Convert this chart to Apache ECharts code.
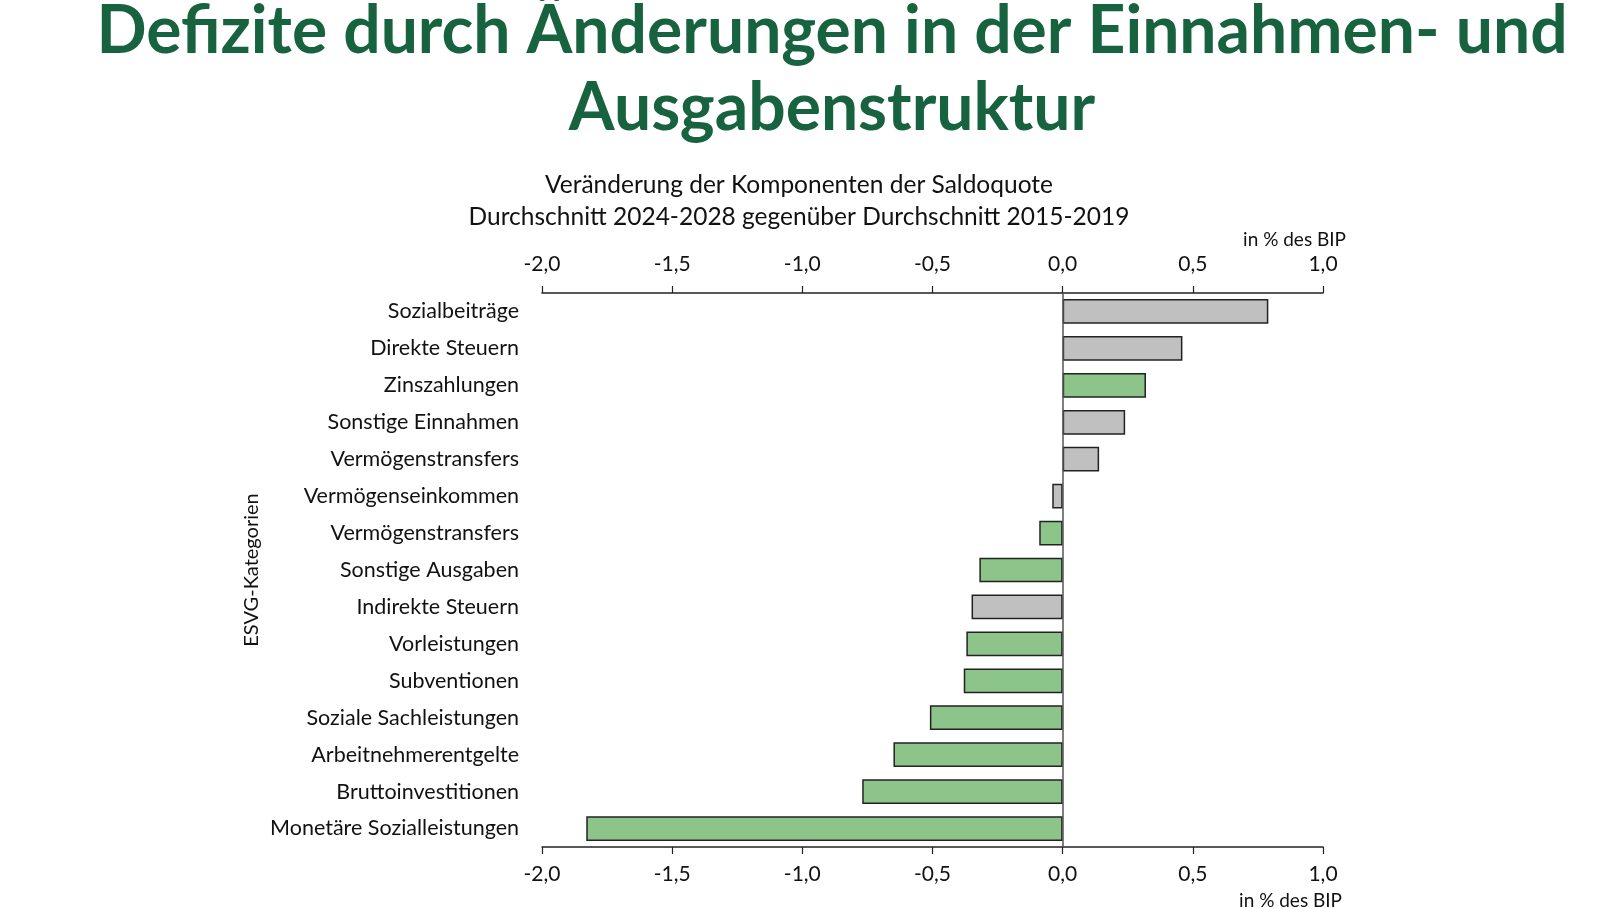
<!DOCTYPE html>
<html>
<head>
<meta charset="utf-8">
<script src="https://cdn.jsdelivr.net/npm/echarts@6/dist/echarts.min.js"></script>
<style>
html,body{margin:0;padding:0;background:#fff;}
#chart{width:1616px;height:909px;}
</style>
</head>
<body>
<div id="chart"></div>
<script>
const categories = ["Sozialbeiträge","Direkte Steuern","Zinszahlungen","Sonstige Einnahmen","Vermögenstransfers","Vermögenseinkommen","Vermögenstransfers","Sonstige Ausgaben","Indirekte Steuern","Vorleistungen","Subventionen","Soziale Sachleistungen","Arbeitnehmerentgelte","Bruttoinvestitionen","Monetäre Sozialleistungen"];
const values = [0.79, 0.46, 0.32, 0.24, 0.14, -0.04, -0.09, -0.32, -0.35, -0.37, -0.38, -0.51, -0.65, -0.77, -1.83];
// "E" = Einnahmen (grey), "A" = Ausgaben (green)
const kinds = ["E","E","A","E","E","E","A","A","E","A","A","A","A","A","A"];
const axisMin = -2.0, axisMax = 1.0, axisStep = 0.5;
const titleText = "Defizite durch Änderungen in der Einnahmen- und\nAusgabenstruktur";
const subtitleText = "Veränderung der Komponenten der Saldoquote\nDurchschnitt 2024-2028 gegenüber Durchschnitt 2015-2019";
const unitText = "in % des BIP";
const yAxisName = "ESVG-Kategorien";

const colorE = "#c0c0c0", colorA = "#8cc48a";
const chart = echarts.init(document.getElementById('chart'), null, {renderer:'canvas'});
const fmt = v => v.toFixed(1).replace('.', ',');
const labelFont = "Lato";
function xAxisOf(pos, margin){
  return {
    type:'value', position:pos, min:axisMin, max:axisMax, interval:axisStep,
    axisLine:{show:true, lineStyle:{color:'#222', width:1.5}},
    axisTick:{show:true, inside:false, length:7, lineStyle:{color:'#222', width:1.2}},
    splitLine:{show:false},
    axisLabel:{formatter:fmt, color:'#111', fontFamily:labelFont, fontSize:21, margin:margin}
  };
}
chart.setOption({
  animation:false,
  backgroundColor:'#fff',
  title:[
    {text:titleText, left:827, top:-12, textAlign:'center',
     textStyle:{color:'#17623f', fontFamily:'Lato', fontWeight:'bold', fontSize:66, lineHeight:77}},
    {text:subtitleText, left:794, top:164, textAlign:'center',
     textStyle:{color:'#111', fontFamily:labelFont, fontWeight:'normal', fontSize:24.5, lineHeight:32}}
  ],
  graphic:[
    {type:'text', right:270, top:230, style:{text:unitText, fill:'#111', font:'19px Lato'}},
    {type:'text', right:274, top:891, style:{text:unitText, fill:'#111', font:'19px Lato'}}
  ],
  grid:{left:542, right:293, top:293, bottom:62, containLabel:false},
  xAxis:[ xAxisOf('top', 18), xAxisOf('bottom', 17) ],
  yAxis:{
    type:'category', data:categories, inverse:true,
    axisLine:{show:false, onZero:false}, axisTick:{show:false},
    axisLabel:{color:'#111', fontFamily:labelFont, fontSize:21.5, margin:23},
    name:yAxisName, nameLocation:'middle', nameRotate:90, nameGap:280,
    nameTextStyle:{color:'#111', fontFamily:labelFont, fontSize:20}
  },
  series:[{
    type:'bar', xAxisIndex:0,
    data: values.map((v,i)=>({value:v, itemStyle:{color: kinds[i]==='E'?colorE:colorA}})),
    barCategoryGap:'33%',
    itemStyle:{borderColor:'#222', borderWidth:1.5},
    markLine:{silent:true, symbol:'none', label:{show:false},
      lineStyle:{color:'#555', width:1.5, type:'solid'}, data:[{xAxis:0}]}
  }]
});
</script>
</body>
</html>
